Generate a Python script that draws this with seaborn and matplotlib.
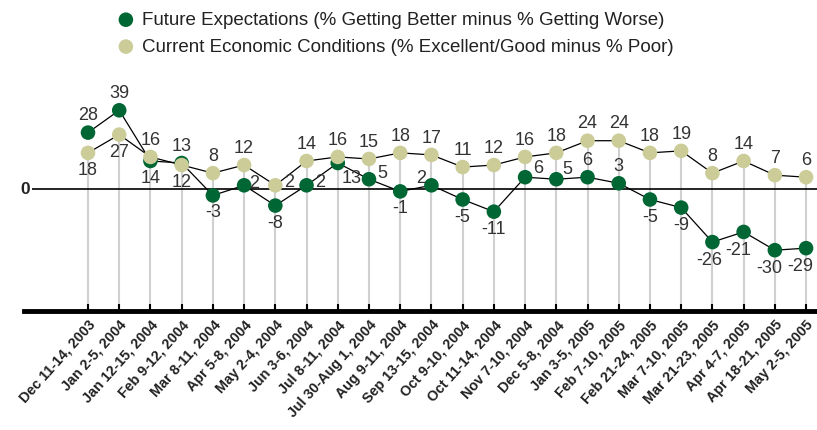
import pandas as pd
import numpy as np
import matplotlib.pyplot as plt
import seaborn as sns

# Fechas de las encuestas
fechas = ['Dec 11-14, 2003', 'Jan 2-5, 2004', 'Jan 12-15, 2004', 'Feb 9-12, 2004',
          'Mar 8-11, 2004', 'Apr 5-8, 2004', 'May 2-4, 2004', 'Jun 3-6, 2004',
          'Jul 8-11, 2004', 'Jul 30-Aug 1, 2004', 'Aug 9-11, 2004', 'Sep 13-15, 2004',
          'Oct 9-10, 2004', 'Oct 11-14, 2004', 'Nov 7-10, 2004', 'Dec 5-8, 2004',
          'Jan 3-5, 2005', 'Feb 7-10, 2005', 'Feb 21-24, 2005', 'Mar 7-10, 2005',
          'Mar 21-23, 2005', 'Apr 4-7, 2005', 'Apr 18-21, 2005', 'May 2-5, 2005']

futuro = [28, 39, 14, 13, -3, 2, -8, 2, 13, 5, -1, 2, -5, -11, 6, 5, 6, 3,
          -5, -9, -26, -21, -30, -29]
actual = [18, 27, 16, 12, 8, 12, 2, 14, 16, 15, 18, 17, 11, 12, 16, 18, 24, 24,
          18, 19, 8, 14, 7, 6]

nombre_fut = 'Future Expectations (% Getting Better minus % Getting Worse)'
nombre_act = 'Current Economic Conditions (% Excellent/Good minus % Poor)'

verde = '#006633'
beige = '#cccc99'

df = pd.DataFrame({'fecha': fechas, 'futuro': futuro, 'actual': actual})
largo = df.melt(id_vars='fecha', var_name='serie', value_name='valor')

plt.rcParams['font.family'] = ['Liberation Sans', 'DejaVu Sans']

fig = plt.figure(figsize=(8.17, 4.30), dpi=100)
ax = fig.add_axes([24 / 817, 1 - 311 / 430, 1 - 24 / 817, (311 - 88) / 430])

x = np.arange(len(fechas))

# Lineas grises verticales
ax.vlines(x, -60, actual, color='#d0d0d0', lw=1.5, zorder=0)
# Linea del cero
ax.hlines(0, -1.79, 23.5, color='black', lw=1.2, zorder=1)
ax.text(-1.87, 0, '0', ha='right', va='center', fontsize=12.5, fontweight='bold',
        color='#222222')

sns.lineplot(data=largo, x='fecha', y='valor', units='serie', estimator=None,
             color='black', lw=0.9, sort=False, ax=ax, zorder=2, legend=False)
sns.scatterplot(data=df, x='fecha', y='futuro', color=verde, s=110,
                edgecolor='none', ax=ax, zorder=3, label=nombre_fut)
sns.scatterplot(data=df, x='fecha', y='actual', color=beige, s=110,
                edgecolor='none', ax=ax, zorder=3, label=nombre_act)

# Etiquetas de datos
col_txt = '#333333'
fs = 13
pos_fut = ['a', 'a', 'b', 'a', 'b', 'r', 'b', 'r2', 'br', 'r5', 'b', 'al', 'b', 'b',
           'r6', 'r7', 'a', 'a', 'b', 'b', 'bl2', 'bl', 'bl', 'bl']
offs = {'a': (0, 6, 'center', 'bottom'), 'b': (0, -6.5, 'center', 'top'),
        'r': (3.5, 1, 'left', 'center'), 'r2': (6, 2, 'left', 'center'),
        'br': (3, -5, 'left', 'top'), 'r5': (6, 4, 'left', 'center'),
        'al': (-4, 5, 'right', 'center'), 'r6': (6, 6, 'left', 'center'),
        'r7': (4, 7, 'left', 'center'), 'bl': (-4, -7, 'center', 'top'),
        'bl2': (-2, -7, 'center', 'top')}
for i in range(len(fechas)):
    dx, dy, ha, va = offs[pos_fut[i]]
    ax.annotate(str(futuro[i]), (i, futuro[i]), xytext=(dx, dy),
                textcoords='offset points', ha=ha, va=va, fontsize=fs, color=col_txt)
    if actual[i] == 2:
        ax.annotate(str(actual[i]), (i, actual[i]), xytext=(6, 2),
                    textcoords='offset points', ha='left', va='center',
                    fontsize=fs, color=col_txt)
    elif futuro[i] > actual[i]:
        ax.annotate(str(actual[i]), (i, actual[i]), xytext=(0, -6.5),
                    textcoords='offset points', ha='center', va='top',
                    fontsize=fs, color=col_txt)
    else:
        ax.annotate(str(actual[i]), (i, actual[i]), xytext=(0, 6),
                    textcoords='offset points', ha='center', va='bottom',
                    fontsize=fs, color=col_txt)

ax.set_xlim(-2.05, 23.35)
ax.set_ylim(-60, 50)
ax.set_xticks(x)
ax.set_xticklabels(fechas, rotation=48, ha='right', rotation_mode='anchor',
                   fontsize=10.3, fontweight='bold', color='#222222')
ax.set_yticks([])
ax.set_xlabel('')
ax.set_ylabel('')
for lado in ['top', 'right', 'left']:
    ax.spines[lado].set_visible(False)
ax.spines['bottom'].set_linewidth(3.5)
ax.tick_params(axis='x', direction='in', length=5, width=1.5, pad=5)

ax.legend(loc='upper left', bbox_to_anchor=(109 / 817, 1 - 4 / 430),
          bbox_transform=fig.transFigure, frameon=False, fontsize=13.5,
          handletextpad=0.36, labelspacing=0.52, markerscale=1.0,
          borderaxespad=0, handlelength=1.0)
for t in ax.get_legend().get_texts():
    t.set_color('#222222')

fig.savefig('out.png', dpi=100)
